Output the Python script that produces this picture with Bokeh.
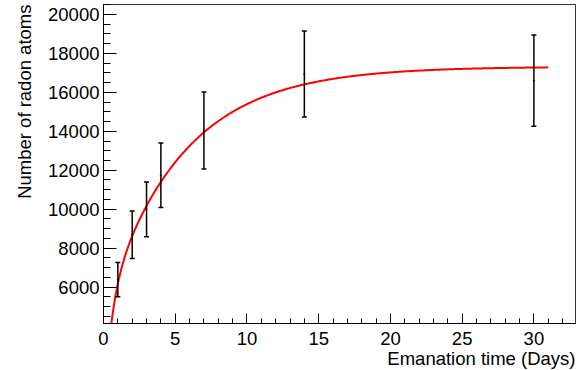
import numpy as np
from bokeh.plotting import figure
from bokeh.models import Range1d, SingleIntervalTicker, Title
from bokeh.embed import file_html
from bokeh.resources import INLINE

# ---- data ----
days = [1, 2, 3, 4, 7, 14, 30]
atoms = [6380, 8690, 9990, 11740, 14040, 16940, 16600]
atoms_err = [880, 1220, 1410, 1660, 1975, 2205, 2340]

# fit function parameters (N = A - C1*exp(-l1*t) - C2*exp(-l2*t))
fit_A = 17320.0
fit_C1 = 12500.0
fit_l1 = 0.187
fit_C2 = 5734.0
fit_l2 = 2.0
fit_tmin = 0.3
fit_tmax = 31.0

x_title = "Emanation time (Days)"
y_title = "Number of radon atoms"

FONT = "Liberation Sans"
FS = "18.5px"

x = np.array(days, dtype=float)
y = np.array(atoms, dtype=float)
e = np.array(atoms_err, dtype=float)

t = np.linspace(fit_tmin, fit_tmax, 600)
n = fit_A - fit_C1 * np.exp(-fit_l1 * t) - fit_C2 * np.exp(-fit_l2 * t)

W, H = 580, 370
p = figure(width=W, height=H, output_backend="svg", toolbar_location=None,
           x_range=Range1d(0, 32.9), y_range=Range1d(4130, 20510),
           min_border_left=103, min_border_right=W - 575,
           min_border_top=4, min_border_bottom=H - 323,
           margin=(0, 0, 0, 0))
p.background_fill_color = "white"
p.border_fill_color = "white"
p.outline_line_color = "#333333"
p.outline_line_width = 1
p.xgrid.visible = False
p.ygrid.visible = False

p.xaxis.ticker = SingleIntervalTicker(interval=5, num_minor_ticks=5)
p.yaxis.ticker = SingleIntervalTicker(interval=2000, num_minor_ticks=4)
for ax in (p.xaxis, p.yaxis):
    ax.axis_line_color = "black"
    ax.axis_line_width = 1
    ax.major_tick_line_color = "black"
    ax.minor_tick_line_color = "black"
    ax.major_tick_out = 0
    ax.minor_tick_out = 0
    ax.major_label_text_font = FONT
    ax.major_label_text_font_size = FS
    ax.major_label_text_color = "black"
p.xaxis.major_tick_in = 10
p.xaxis.minor_tick_in = 5
p.yaxis.major_tick_in = 13
p.yaxis.minor_tick_in = 7
p.xaxis.major_label_standoff = 8
p.yaxis.major_label_standoff = 4

# axis titles, aligned to the axis ends (ROOT style)
p.add_layout(Title(text=x_title, align="right", text_font=FONT,
                   text_font_size=FS, text_font_style="normal",
                   text_color="black", standoff=-4, offset=0), "below")
p.add_layout(Title(text=y_title, align="right", text_font=FONT,
                   text_font_size=FS, text_font_style="normal",
                   text_color="black", standoff=22, offset=0), "left")

# fit curve
p.line(t, n, line_color="#ff0000", line_width=2)

# error bars
p.segment(x0=x, y0=y - e, x1=x, y1=y + e, line_color="black", line_width=1.5)
p.scatter(np.concatenate([x, x]), np.concatenate([y - e, y + e]), marker="dash",
          size=5, line_color="black", line_width=1.5)
p.scatter(x, y, marker="dash", size=2, line_color="black", line_width=1)

open("out.html", "w").write(file_html(p, INLINE))
